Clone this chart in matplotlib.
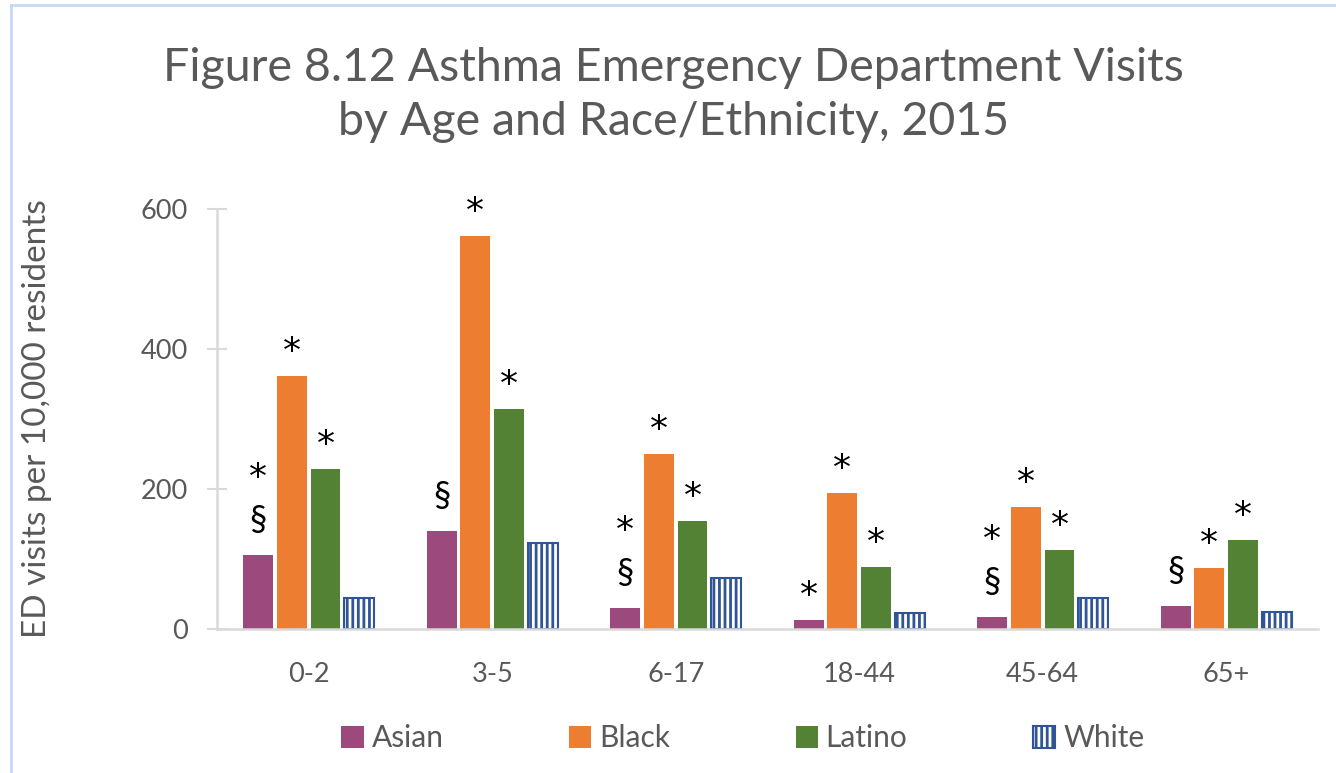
import matplotlib
matplotlib.use("Agg")
import numpy as np
import matplotlib.pyplot as plt
from matplotlib.lines import Line2D

# Data: ED visits per 10,000 residents
age_groups = ["0-2", "3-5", "6-17", "18-44", "45-64", "65+"]
races = ["Asian", "Black", "Latino", "White"]
asian = [106, 140, 30, 13, 17, 33]
black = [361, 561, 250, 194, 174, 87]
latino = [229, 314, 154, 89, 113, 127]
white = [44, 123, 73, 23, 44, 24]

# Notes above bars: '*' statistically different, '§' unstable estimate
asian_notes = ["§*", "§", "§*", "*", "§*", "§"]
black_notes = ["*", "*", "*", "*", "*", "*"]
latino_notes = ["*", "*", "*", "*", "*", "*"]
white_notes = ["", "", "", "", "", ""]

y_ticks = [0, 200, 400, 600]

colors = ["#9C4A7D", "#ED7D31", "#548235", "#FFFFFF"]
hatch_blue = "#2F5597"
text_gray = "#595959"

plt.rcParams["font.family"] = ["Lato", "DejaVu Sans"]
plt.rcParams["hatch.linewidth"] = 2.0

fig = plt.figure(figsize=(13.36, 7.73), dpi=100)
ax = fig.add_axes([0.1624, 0.1863, 0.9865 - 0.1624, 0.7296 - 0.1863])

series = [asian, black, latino, white]
notes = [asian_notes, black_notes, latino_notes, white_notes]
x = np.arange(len(age_groups))
width = 0.163
step = 0.183

for i, (vals, name) in enumerate(zip(series, races)):
    pos = x + (i - 1.5) * step
    if name == "White":
        ax.bar(pos, vals, width, color="white", edgecolor=hatch_blue,
               hatch="|||", linewidth=1.5, label=name)
    else:
        ax.bar(pos, vals, width, color=colors[i], linewidth=0, label=name)
    for p, v, note in zip(pos, vals, notes[i]):
        off = 0
        if "§" in note:
            ax.annotate("§", (p, v), xytext=(0, 18), textcoords="offset points",
                        ha="center", va="baseline", fontsize=25,
                        color="black", annotation_clip=False)
            off = 1
        if "*" in note:
            ax.annotate("*", (p, v), xytext=(0, 48 if off else 10),
                        textcoords="offset points", ha="center",
                        va="baseline", fontsize=26, color="black",
                        family="DejaVu Sans", annotation_clip=False)

ax.set_xlim(-0.5, len(age_groups) - 0.5)
ax.set_ylim(0, 600)
ax.set_xticks(x)
ax.set_xticklabels(age_groups)
ax.set_yticks(y_ticks)
ax.tick_params(axis="x", length=0, pad=24, labelsize=19.5, labelcolor=text_gray)
ax.tick_params(axis="y", direction="inout", length=14, width=1.5,
               color="#D9D9D9", pad=14, labelsize=19.5, labelcolor=text_gray)
for s in ["top", "right"]:
    ax.spines[s].set_visible(False)
for s in ["left", "bottom"]:
    ax.spines[s].set_color("#D9D9D9")
    ax.spines[s].set_linewidth(1.8)
ax.set_ylabel("ED visits per 10,000 residents", fontsize=24, color=text_gray)
ax.yaxis.set_label_coords(-0.150, 0.5)

fig.text(0.504, 0.877, "Figure 8.12 Asthma Emergency Department Visits\n"
         "by Age and Race/Ethnicity, 2015", ha="center", va="center",
         fontsize=33.5, color=text_gray, linespacing=1.35)

fig.legend(loc="center", bbox_to_anchor=(0.556, 0.045), ncol=4, frameon=False,
           fontsize=21.5, labelcolor=text_gray, handlelength=0.74,
           handleheight=0.74, handletextpad=0.27, columnspacing=4.2)

# light blue frame edges
fig.add_artist(Line2D([10.5 / 1336, 1], [1 - 4.5 / 773, 1 - 4.5 / 773],
                      color="#C5D9F1", linewidth=2, transform=fig.transFigure))
fig.add_artist(Line2D([10.5 / 1336, 10.5 / 1336], [0, 1 - 4.5 / 773],
                      color="#C5D9F1", linewidth=2, transform=fig.transFigure))

fig.savefig("out.png", dpi=100)
